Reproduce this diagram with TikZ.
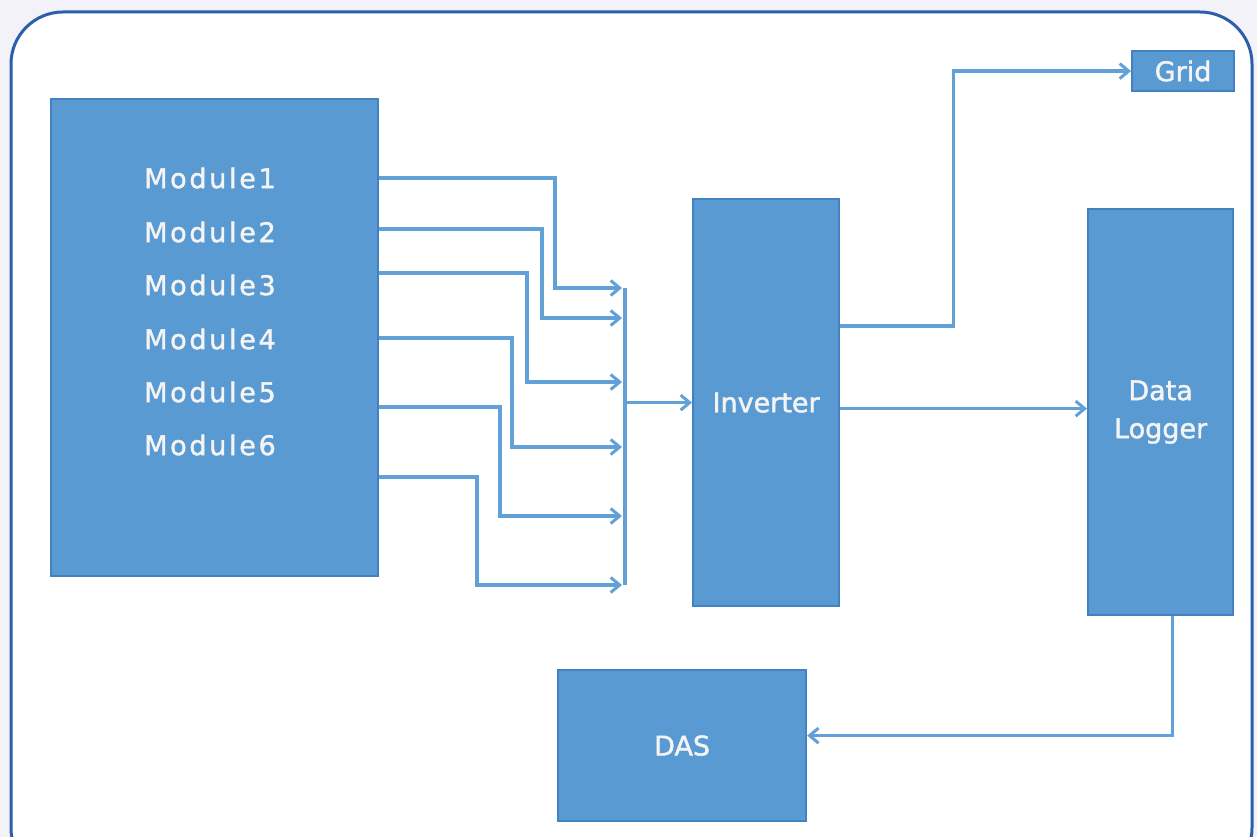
\documentclass[tikz,border=0pt]{standalone}
\usepackage{fontspec}
\usetikzlibrary{arrows.meta,calc}
\newfontfamily\lblfont[FakeBold=1.6]{DejaVu Sans}
\newfontfamily\modfont[LetterSpace=10,FakeBold=1.6]{DejaVu Sans}
\definecolor{boxfill}{HTML}{5A9AD2}
\definecolor{boxline}{HTML}{4282C2}
\definecolor{connc}{HTML}{62A0D8}
\definecolor{frame}{HTML}{2B5FAA}
\definecolor{pagebg}{HTML}{F3F2F8}
\definecolor{txt}{HTML}{F4F4F4}
\tikzset{
  blk/.style={draw=boxline, line width=2.2pt, fill=boxfill, text=txt, inner sep=0pt,
    font=\lblfont\fontsize{27}{38}\selectfont, align=center, anchor=north west},
  modlbl/.style={text=txt, inner sep=0pt, anchor=west, font=\modfont\fontsize{27}{30}\selectfont},
  conn/.style={draw=connc, line width=3.4pt},
  arr/.style={conn, -{Straight Barb[length=9pt,width=15pt,line width=3pt]}}
}
\begin{document}
\begin{tikzpicture}[x=1pt,y=-1pt]
\useasboundingbox (0,0) rectangle (1257,837);
\fill[pagebg] (0,0) rectangle (1257,837);
\begin{scope}
\clip (0,0) rectangle (1257,837);
\draw[frame, line width=3pt, fill=white, rounded corners=52pt] (11,12) rectangle (1252,880);
\end{scope}
% blocks
\node[blk, minimum width=327pt, minimum height=477pt] (mods) at (50,98) {};
\node[blk, minimum width=146pt, minimum height=407pt] (inv) at (692,198) {Inverter};
\node[blk, minimum width=145pt, minimum height=406pt] (logger) at (1087,208) {Data\\Logger};
\node[blk, minimum width=102pt, minimum height=40pt] (grid) at (1131,50) {Grid};
\node[blk, minimum width=248pt, minimum height=151pt] (das) at (557,669) {DAS};
% module labels
\node[modlbl] (m1) at (144,178) {Module1};
\node[modlbl] (m2) at (144,232) {Module2};
\node[modlbl] (m3) at (144,285) {Module3};
\node[modlbl] (m4) at (144,339) {Module4};
\node[modlbl] (m5) at (144,392) {Module5};
\node[modlbl] (m6) at (144,445) {Module6};
% bus points
\coordinate (b1) at (622,288);
\coordinate (b2) at (622,318);
\coordinate (b3) at (622,382);
\coordinate (b4) at (622,447);
\coordinate (b5) at (622,516);
\coordinate (b6) at (622,585);
\coordinate (bustop) at (625,288);
\coordinate (busbot) at (625,585);
\coordinate (busmid) at (bustop |- inv.west);
% module connectors
\draw[arr] ([yshift=-80pt]mods.north east) -| ([xshift=-67pt]b1) -- (b1);
\draw[arr] ([yshift=-131pt]mods.north east) -| ([xshift=-80pt]b2) -- (b2);
\draw[arr] ([yshift=-175pt]mods.north east) -| ([xshift=-95pt]b3) -- (b3);
\draw[arr] ([yshift=-240pt]mods.north east) -| ([xshift=-110pt]b4) -- (b4);
\draw[arr] ([yshift=-309pt]mods.north east) -| ([xshift=-122pt]b5) -- (b5);
\draw[arr] ([yshift=-379pt]mods.north east) -| ([xshift=-145pt]b6) -- (b6);
\draw[conn] (bustop) -- (busbot);
\draw[arr] (busmid) -- (inv.west);
% inverter outputs
\draw[arr] ([yshift=-128pt]inv.north east) -- ++(113,0) |- (grid.west);
\draw[arr] ([yshift=-6pt]inv.east) -- ([yshift=-6pt]inv.east -| logger.west);
\draw[arr] ([xshift=12pt]logger.south) |- ([yshift=10pt]das.east);
\end{tikzpicture}
\end{document}
